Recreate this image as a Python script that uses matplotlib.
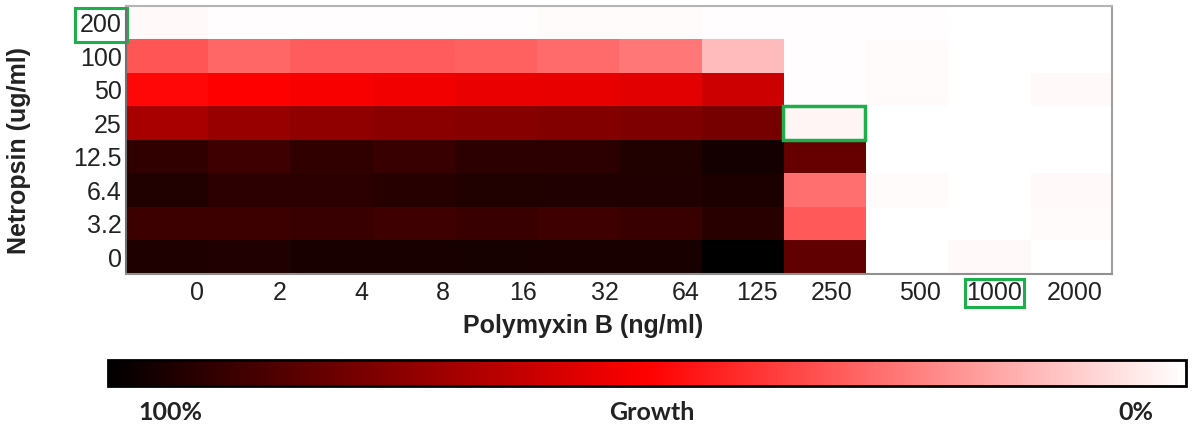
import numpy as np
import matplotlib
matplotlib.use("Agg")
import matplotlib.pyplot as plt
from matplotlib.colors import LinearSegmentedColormap, Normalize
from matplotlib.patches import Rectangle
import matplotlib.cm as cm

# Data: growth (%), rows top -> bottom
netropsin = ["200", "100", "50", "25", "12.5", "6.4", "3.2", "0"]
polymyxin = ["0", "2", "4", "8", "16", "32", "64", "125", "250", "500", "1000", "2000"]

row_200 = [1.5, 0.5, 0.5, 0.5, 0.5, 1.0, 1.0, 0.5, 0.5, 0.5, 0.3, 0.3]
row_100 = [33.3, 30.0, 32.0, 32.0, 31.0, 29.0, 26.7, 13.3, 0.5, 1.0, 0.3, 0.3]
row_50 = [48.5, 50.0, 51.4, 52.5, 54.0, 54.5, 55.7, 60.0, 0.5, 1.0, 0.3, 1.5]
row_25 = [67.0, 70.0, 71.8, 73.0, 73.7, 74.0, 75.0, 76.9, 2.0, 0.3, 0.3, 0.3]
row_12_5 = [90.6, 87.5, 90.6, 89.0, 91.4, 91.4, 93.0, 96.0, 80.0, 0.3, 0.3, 0.3]
row_6_4 = [93.0, 91.4, 91.4, 92.2, 93.0, 93.7, 93.7, 94.5, 28.4, 1.0, 0.3, 1.5]
row_3_2 = [88.0, 88.0, 89.0, 87.5, 89.0, 87.5, 89.0, 92.0, 32.7, 0.3, 0.3, 1.0]
row_0 = [94.0, 93.7, 95.3, 95.0, 95.7, 95.3, 95.3, 100.0, 81.0, 0.3, 1.5, 0.3]

growth = np.array([row_200, row_100, row_50, row_25, row_12_5, row_6_4, row_3_2, row_0])

# tick label spots (layout only, the original labels sit right of the cell centres)
xtick_pos = [0.36, 1.37, 2.37, 3.36, 4.33, 5.33, 6.31, 7.18, 8.09, 9.16, 10.07, 11.04]

GREEN = "#1db04a"

cmap = LinearSegmentedColormap.from_list("growth", ["white", "red", "black"])
norm = Normalize(vmin=0, vmax=100)

plt.rcParams["font.family"] = ["Liberation Sans", "DejaVu Sans"]

fig = plt.figure(figsize=(11.93, 4.34), dpi=100)
ax = fig.add_axes([0.1056, 0.369, 0.8265, 0.6175])

ax.imshow(growth, cmap=cmap, norm=norm, aspect="auto", interpolation="nearest")

ax.set_xticks(xtick_pos)
ax.set_xticklabels(polymyxin, fontsize=18, color="#222222")
ax.set_yticks(range(len(netropsin)))
ax.set_yticklabels(netropsin, fontsize=18, color="#222222")
ax.tick_params(axis="x", length=0, pad=5)
ax.tick_params(axis="y", length=0, pad=3)
ax.set_xlim(-0.5, 11.5)
ax.set_ylim(7.5, -0.5)

ax.spines["top"].set_color("#b4b4b4")
ax.spines["right"].set_color("#a0a0a0")
ax.spines["left"].set_color("#707070")
ax.spines["bottom"].set_color("#909090")
for s in ax.spines.values():
    s.set_linewidth(1.5)

# green highlight boxes
for lab in ax.get_yticklabels():
    if lab.get_text() == "200":
        lab.set_bbox(dict(facecolor="none", edgecolor=GREEN, linewidth=2.2, boxstyle="square,pad=0.2"))
for lab in ax.get_xticklabels():
    if lab.get_text() == "1000":
        lab.set_bbox(dict(facecolor="none", edgecolor=GREEN, linewidth=2.2, boxstyle="square,pad=0.08"))

r = netropsin.index("25")
c = polymyxin.index("250")
ax.add_patch(Rectangle((c - 0.5, r - 0.5), 1, 1, fill=False, edgecolor=GREEN, linewidth=2.5, clip_on=False, zorder=5))

fig.text(583 / 1193, 1 - 326 / 434, "Polymyxin B (ng/ml)", ha="center", va="center",
         fontsize=18, fontweight="bold", color="#222222")
fig.text(19 / 1193, 1 - 150 / 434, "Netropsin (ug/ml)", ha="center", va="center",
         rotation=90, fontsize=18, fontweight="bold", color="#222222")

# colour bar
cax = fig.add_axes([0.0905, 0.1106, 0.9036, 0.06])
cb = fig.colorbar(cm.ScalarMappable(norm=norm, cmap=cmap), cax=cax, orientation="horizontal")
cax.invert_xaxis()
cb.set_ticks([])
cb.outline.set_linewidth(2)
cb.outline.set_edgecolor("black")

fig.text(170 / 1193, 1 - 413 / 434, "100%", ha="center", va="center",
         fontsize=18, fontweight="bold", family=["Lato", "DejaVu Sans"], color="#222222")
fig.text(652 / 1193, 1 - 413 / 434, "Growth", ha="center", va="center",
         fontsize=18, fontweight="bold", family=["Lato", "DejaVu Sans"], color="#222222")
fig.text(1136 / 1193, 1 - 413 / 434, "0%", ha="center", va="center",
         fontsize=18, fontweight="bold", family=["Lato", "DejaVu Sans"], color="#222222")

fig.savefig("out.png", dpi=100)
